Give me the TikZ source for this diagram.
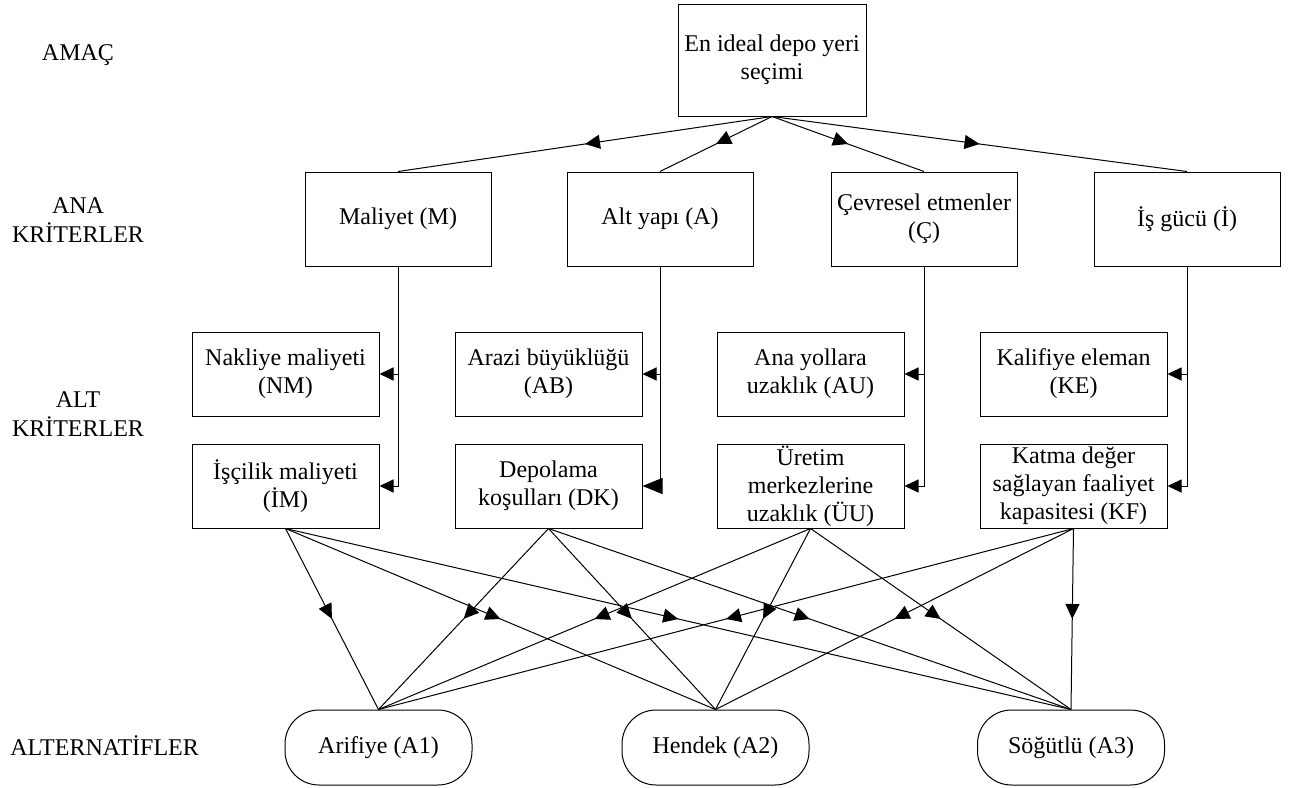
\documentclass[tikz,border=0pt]{standalone}
\usepackage{fontspec}
\setmainfont{Liberation Serif}
\usetikzlibrary{positioning,arrows.meta,decorations.markings}

\tikzset{
  box/.style={draw, line width=0.5pt, align=center, inner sep=0.5pt,
    font=\fontsize{12pt}{14pt}\selectfont},
  goalbox/.style={box, minimum width=94pt, minimum height=56pt},
  mainbox/.style={box, minimum width=93pt, minimum height=47pt},
  subbox/.style={box, minimum width=93.5pt, minimum height=42pt},
  altbox/.style={box, rounded corners=17pt, minimum width=93.5pt, minimum height=37.5pt},
  level/.style={align=center, font=\fontsize{12pt}{14.5pt}\selectfont},
  link/.style={line width=0.5pt, postaction={decorate},
    decoration={markings, mark=at position 0.5 with {\arrow{Triangle[length=7.5pt,width=7pt]}}}},
  branch/.style={line width=0.5pt, -{Triangle[length=7pt,width=6.5pt]}}
}

\begin{document}
\begin{tikzpicture}[x=0.5pt, y=-0.5pt]
  \useasboundingbox (0,0) rectangle (1290,787);

  \node[level] (lgoal) at (78,55) {AMAÇ};
  \node[level] (lmain) at (78,220) {ANA\\KRİTERLER};
  \node[level] (lsub) at (78,414) {ALT\\KRİTERLER};
  \node[level, anchor=west, inner sep=0pt] (lalt) at (10,746) {ALTERNATİFLER};

  \node[goalbox] (goal) at (772,60) {En ideal depo yeri\\seçimi};

  \node[mainbox] (M) at (398,219) {Maliyet (M)};
  \node[mainbox, right=37.5pt of M] (A) {Alt yapı (A)};
  \node[mainbox, right=38.5pt of A] (C) {Çevresel etmenler\\(Ç)};
  \node[mainbox, right=38pt of C] (I) {İş gücü (İ)};

  \node[subbox] (NM) at (285.5,374) {Nakliye maliyeti\\(NM)};
  \node[subbox, right=37.5pt of NM] (AB) {Arazi büyüklüğü\\(AB)};
  \node[subbox, right=37pt of AB] (AU) {Ana yollara\\uzaklık (AU)};
  \node[subbox, right=37.5pt of AU] (KE) {Kalifiye eleman\\(KE)};

  \node[subbox, below=13.5pt of NM] (IM) {İşçilik maliyeti\\(İM)};
  \node[subbox, below=13.5pt of AB] (DK) {Depolama\\koşulları (DK)};
  \node[subbox, below=13.5pt of AU] (UU) {Üretim\\merkezlerine\\uzaklık (ÜU)};
  \node[subbox, below=13.5pt of KE] (KF) {Katma değer\\sağlayan faaliyet\\kapasitesi (KF)};

  \node[altbox] (A1) at (378.5,747.5) {Arifiye (A1)};
  \node[altbox] (A2) at (715.5,747.5) {Hendek (A2)};
  \node[altbox] (A3) at (1071,747.5) {Söğütlü (A3)};

  \draw[link] (goal.south) -- (M.north);
  \draw[link] (goal.south) -- (A.north);
  \draw[link] (goal.south) -- (C.north);
  \draw[link] (goal.south) -- (I.north);

  \draw[branch] (M.south) |- (NM.east);
  \draw[branch] (M.south) |- (IM.east);
  \draw[branch] (A.south) |- (AB.east);
  \draw[line width=0.5pt, -{Triangle[length=10pt,width=8pt]}] (A.south) |- (DK.east);
  \draw[branch] (C.south) |- (AU.east);
  \draw[branch] (C.south) |- (UU.east);
  \draw[branch] (I.south) |- (KE.east);
  \draw[branch] (I.south) |- (KF.east);

  \draw[link] (IM.south) -- (A1.north);
  \draw[link] (IM.south) -- (A2.north);
  \draw[link] (IM.south) -- (A3.north);
  \draw[link] (DK.south) -- (A1.north);
  \draw[link] (DK.south) -- (A2.north);
  \draw[link] (DK.south) -- (A3.north);
  \draw[link] (UU.south) -- (A1.north);
  \draw[link] (UU.south) -- (A2.north);
  \draw[link] (UU.south) -- (A3.north);
  \draw[link] (KF.south) -- (A1.north);
  \draw[link] (KF.south) -- (A2.north);
  \draw[link] (KF.south) -- (A3.north);
\end{tikzpicture}
\end{document}
